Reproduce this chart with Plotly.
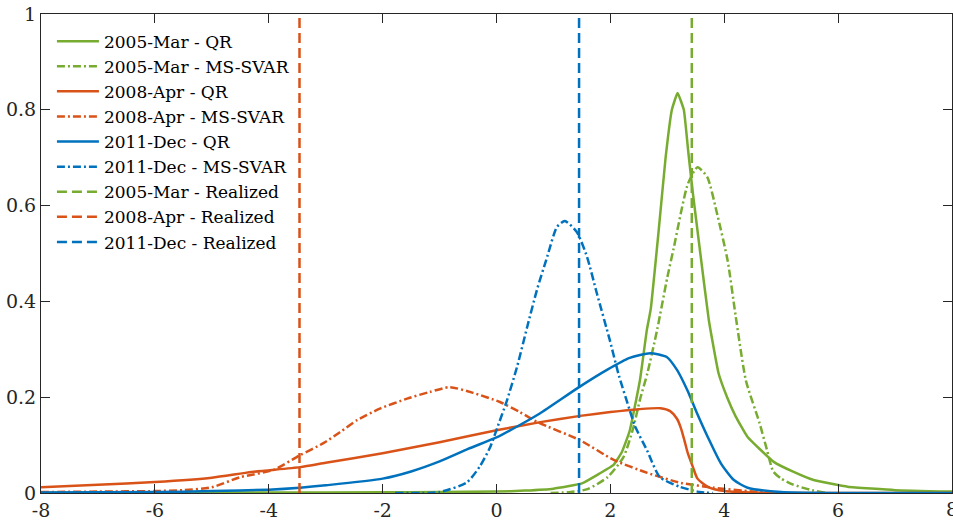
import plotly.graph_objects as go

# ---------------- data ----------------
x_mar_qr = [-8, -6, -4, -2, -1, 0, 0.5, 1.0, 1.5, 1.8, 2.05, 2.2, 2.34, 2.52, 2.64, 2.71, 2.85, 2.97, 3.08, 3.18, 3.29, 3.37, 3.45, 3.58, 3.73, 3.9, 4.05, 4.2, 4.41, 4.87, 5.2, 5.57, 6.17, 7, 8]
y_mar_qr = [0.0005, 0.0007, 0.001, 0.0015, 0.002, 0.003, 0.005, 0.009, 0.02, 0.04, 0.058, 0.085, 0.13, 0.236, 0.34, 0.385, 0.55, 0.70, 0.80, 0.835, 0.80, 0.71, 0.625, 0.50, 0.36, 0.25, 0.2, 0.16, 0.117, 0.065, 0.045, 0.027, 0.013, 0.006, 0.003]

x_mar_ms = [0.95, 1.3, 1.6, 1.95, 2.23, 2.4, 2.52, 2.65, 2.82, 3.0, 3.11, 3.36, 3.53, 3.70, 3.88, 4.06, 4.2, 4.38, 4.62, 4.75, 4.86, 5.0, 5.2, 5.5, 5.8]
y_mar_ms = [0.0, 0.002, 0.008, 0.033, 0.075, 0.135, 0.195, 0.25, 0.34, 0.45, 0.51, 0.645, 0.68, 0.66, 0.58, 0.485, 0.37, 0.235, 0.146, 0.09, 0.045, 0.03, 0.018, 0.007, 0.0]

x_apr_qr = [-8, -7, -6, -5, -4.3, -3.45, -3, -2, -1, 0, 0.77, 1.47, 2.0, 2.5, 2.88, 3.05, 3.17, 3.24, 3.3, 3.36, 3.45, 3.53, 3.71, 4.0, 4.5, 5, 8]
y_apr_qr = [0.012, 0.017, 0.023, 0.032, 0.044, 0.054, 0.063, 0.083, 0.106, 0.131, 0.148, 0.161, 0.169, 0.175, 0.177, 0.171, 0.155, 0.135, 0.11, 0.083, 0.054, 0.03, 0.013, 0.004, 0.001, 0, 0]

x_apr_ms = [-8, -7, -6, -5.5, -5, -4.5, -3.92, -3.45, -3.04, -2.75, -2.45, -2.05, -1.57, -1.17, -0.82, -0.41, 0.06, 0.41, 0.72, 1.47, 2.06, 2.65, 3.24, 3.82, 4.5, 5.0]
y_apr_ms = [0.002, 0.003, 0.004, 0.006, 0.012, 0.033, 0.048, 0.079, 0.104, 0.127, 0.152, 0.176, 0.197, 0.211, 0.221, 0.209, 0.19, 0.169, 0.148, 0.11, 0.069, 0.042, 0.021, 0.011, 0.003, 0.0]

x_dec_qr = [-8, -6, -5, -4, -3.45, -3, -2, -1.5, -1, -0.5, 0, 0.41, 0.76, 1.45, 1.94, 2.34, 2.7, 2.99, 3.17, 3.35, 3.52, 3.71, 3.94, 4.17, 4.41, 5, 6, 8]
y_dec_qr = [0.001, 0.002, 0.004, 0.007, 0.011, 0.016, 0.03, 0.045, 0.066, 0.092, 0.116, 0.142, 0.166, 0.221, 0.257, 0.282, 0.292, 0.284, 0.257, 0.215, 0.167, 0.117, 0.062, 0.027, 0.011, 0.002, 0, 0]

x_dec_ms = [-1.78, -1.0, -0.52, -0.29, -0.11, 0.01, 0.18, 0.36, 0.54, 0.71, 0.89, 1.06, 1.2, 1.41, 1.59, 1.76, 1.99, 2.15, 2.34, 2.43, 2.64, 2.87, 3.22, 3.57, 3.8]
y_dec_ms = [0, 0.002, 0.022, 0.056, 0.096, 0.135, 0.192, 0.263, 0.347, 0.424, 0.493, 0.555, 0.568, 0.545, 0.493, 0.418, 0.319, 0.245, 0.173, 0.14, 0.09, 0.033, 0.013, 0.002, 0]

realized_mar = 3.43
realized_apr = -3.46
realized_dec = 1.45

x_ticks = [-8, -6, -4, -2, 0, 2, 4, 6]
x_tick_labels = ["-8", "-6", "-4", "-2", "0", "2", "4", "6"]
x_last_tick = 8
x_last_label = "8"
y_ticks = [0, 0.2, 0.4, 0.6, 0.8, 1]
y_tick_labels = ["0", "0.2", "0.4", "0.6", "0.8", "1"]

GREEN = "#77AC30"
ORANGE = "#D95319"
BLUE = "#0072BD"
DASHDOT = "8px,3px,2px,3px"
DASH = "10px,5px"
LW = 2.5
FONT = "DejaVu Serif"

fig = go.Figure()

def add(x, y, name, color, dash, shape="spline", smooth=0.6):
    line = dict(color=color, width=LW, dash=dash, shape=shape)
    if shape == "spline":
        line["smoothing"] = smooth
    fig.add_trace(go.Scatter(x=x, y=y, mode="lines", name=name, line=line))

add(x_mar_qr, y_mar_qr, "2005-Mar - QR", GREEN, "solid", "spline", 0.35)
add(x_mar_ms, y_mar_ms, "2005-Mar - MS-SVAR", GREEN, DASHDOT)
add(x_apr_qr, y_apr_qr, "2008-Apr - QR", ORANGE, "solid")
add(x_apr_ms, y_apr_ms, "2008-Apr - MS-SVAR", ORANGE, DASHDOT)
add(x_dec_qr, y_dec_qr, "2011-Dec - QR", BLUE, "solid")
add(x_dec_ms, y_dec_ms, "2011-Dec - MS-SVAR", BLUE, DASHDOT)
add([realized_mar, realized_mar], [0, 1], "2005-Mar - Realized", GREEN, DASH, "linear")
add([realized_apr, realized_apr], [0, 1], "2008-Apr - Realized", ORANGE, DASH, "linear")
add([realized_dec, realized_dec], [0, 1], "2011-Dec - Realized", BLUE, DASH, "linear")

TICKFONT = dict(family=FONT, size=19, color="#262626")
axis_common = dict(showgrid=False, zeroline=False, showline=True, linecolor="#262626",
                   linewidth=1, mirror="ticks", ticks="inside", ticklen=9,
                   tickcolor="#262626", tickwidth=1, tickfont=TICKFONT)

fig.update_layout(
    width=953, height=527,
    margin=dict(l=41, r=1, t=14, b=34),
    paper_bgcolor="white", plot_bgcolor="white",
    font=dict(family=FONT, color="#262626"),
    xaxis=dict(range=[-8, 8], tickvals=x_ticks + [x_last_tick],
               ticktext=x_tick_labels + [""], **axis_common),
    yaxis=dict(range=[0, 1], tickvals=y_ticks, ticktext=y_tick_labels, **axis_common),
    legend=dict(x=0.012, y=0.98, xanchor="left", yanchor="top",
                bgcolor="rgba(0,0,0,0)", borderwidth=0,
                font=dict(family=FONT, size=17, color="#000000"),
                itemwidth=42, tracegroupgap=0),
    showlegend=True,
)

fig.add_annotation(x=x_last_tick, y=0, xref="x", yref="y", text=x_last_label,
                   showarrow=False, yanchor="top", yshift=-3, font=TICKFONT)

fig.write_html("out.html")
